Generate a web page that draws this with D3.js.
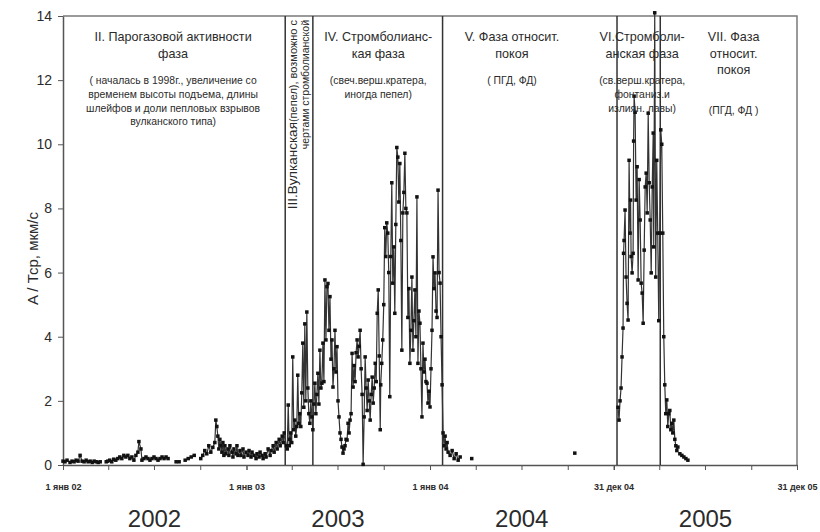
<!DOCTYPE html>
<html>
<head>
<meta charset="utf-8">
<script src="https://cdn.jsdelivr.net/npm/d3@7"></script>
<style>
  body { margin: 0; background: #fff; }
  svg { display: block; font-family: Arial, "Liberation Sans", sans-serif; }
</style>
</head>
<body>
<div id="chart"></div>
<script>
// Days since 1 Jan 2002 and amplitude A/Tср (null = no observation, line breaks)
const days = [
  0, 4, 8, 14, 18, 22, 26, 30, 34, 38, 42, 46, 50, 54, 58, 62, 66, 70, 74, null,
  86, 89, 93, 97, 101, 105, 109, 113, 117, 121, 125, 129, 133, 137, 141, 145, 149, 151, 155, 157,
  161, 165, 169, 173, 177, 181, 185, 189, 193, 197, 201, 205, 209, null,
  225, 231, null,
  243, 249, 255, 261, null,
  274, 278, 282, 286, 290, 294, 298, 302, 304, 306, 308, 310, 312, 314, 316, 318, 320, 322, 324,
  328, 330, 332, 336, 338, 340, 344, 346, 348, 352, 354, 358, 360, 364, 368, 370, 374, 376, 380,
  384, 386, 390, 392, 396, 398, 402, 404, 408, 412, 414, 418, 420, 424, 426, 430, 432, 436, 438, 440,
  444, 446, 448, 450,
  451, 453, 455, 457, 459, 461, 463, 465, 467, 469, 471, 473, 475, 477, 479, 481, 483, 485, 487, 489,
  491, 493, 495, 497, 499, 501, 503, 505, 507, 509, 511, 513, 515, 517, 519, 521, 523, 525, 527, 529,
  531, 533, 535, 537, 539, 541, 543, 545, 547, 549, 551, 553, 555, 557, 559, 561, 563, 565, 567, 569,
  571, 573, 575, 577, 579, 581, 583, 585, 587, 589, 591, 593, 595, 597, 599, 601, 603, 605, 607, 609,
  611, 613, 615, 617, 619, 621, 623, 625, 627, 629, 631,
  632, 634, 636, 638, 640, 642, 644, 646, 648, 650, 652, 654, 656, 658, 660, 662, 664, 666, 668, 670,
  672, 674, 676, 678, 680, 682, 684, 686, 688, 690, 692, 694, 696, 698, 700, 702, 704, 706, 708, 710,
  712, 714, 716, 718, 720, 722, 724, 726, 728, 730, 732, 734, 736, 738, 740, 742, 744, 746, 748, 750,
  752, 754, 756, 758, 760, 762, 764, 766, 770, 774, 778, 782, 786, 790, null,
  813, null,
  1018, null,
  1104, 1106, 1108, 1110, 1112, 1114, 1115, 1116, 1118, 1120, 1122, 1124, 1126, 1128, 1129, 1130,
  1132, 1134, 1135, 1136, 1138, 1140, 1142, 1144, 1146, 1148, 1150, 1152, 1154, 1156, 1158, 1160,
  1162, 1164, 1166, 1168, 1170, 1172, 1174, 1175, 1177, 1179, 1181, 1183, 1185, 1187, 1189, 1191,
  1193, 1195, 1197, 1199, 1201, 1203, 1205, 1207, 1209, 1211, 1213, 1215, 1217, 1219, 1221, 1223, null,
  1227, 1231, 1235, 1239, 1243
];
const amp = [
  0.12, 0.10, 0.15, 0.08, 0.12, 0.10, 0.15, 0.12, 0.30, 0.12, 0.10, 0.15, 0.10, 0.12, 0.08, 0.12, 0.10, 0.08, 0.10, null,
  0.10, 0.12, 0.15, 0.10, 0.18, 0.15, 0.20, 0.25, 0.20, 0.30, 0.25, 0.30, 0.20, 0.25, 0.15, 0.30, 0.40, 0.73, 0.50, 0.15,
  0.20, 0.25, 0.20, 0.15, 0.20, 0.25, 0.20, 0.15, 0.20, 0.25, 0.20, 0.25, 0.20, null,
  0.10, 0.10, null,
  0.15, 0.20, 0.25, 0.30, null,
  0.20, 0.30, 0.45, 0.35, 0.60, 0.40, 0.55, 0.70, 1.40, 1.20, 0.90, 0.50, 0.80, 0.60, 0.40, 0.70, 0.30, 0.60, 0.35,
  0.50, 0.30, 0.60, 0.40, 0.25, 0.50, 0.35, 0.60, 0.30, 0.45, 0.30, 0.50, 0.25, 0.40, 0.30, 0.45, 0.25, 0.40, 0.30,
  0.20, 0.35, 0.25, 0.40, 0.30, 0.20, 0.35, 0.25, 0.50, 0.30, 0.45, 0.60, 0.40, 0.70, 0.50, 0.80, 0.60, 0.90, 0.70, 1.00,
  0.60, 0.50, 1.87, 0.60,
  0.80, 1.00, 0.70, 3.37, 1.10, 1.40, 0.90, 1.20, 2.80, 1.30, 1.60, 1.20, 2.25, 3.80, 1.80, 4.40, 2.00, 4.77, 2.40, 1.60,
  1.30, 2.00, 1.50, 1.10, 1.90, 2.55, 1.60, 2.20, 2.86, 1.90, 3.58, 2.40, 2.55, 3.80, 2.60, 5.77, 3.90, 5.56, 5.66, 4.20,
  5.25, 3.30, 3.90, 2.43, 3.00, 4.20, 2.90, 3.69, 2.00, 1.50, 1.00, 0.80, 0.56, 0.37, 0.50, 0.60, 0.80, 0.78, 1.30, 1.00,
  1.40, 1.60, 3.48, 2.43, 3.10, 2.60, 3.50, 3.90, 3.37, 3.70, 4.20, 3.00, 2.20, 0.02, 1.50, 3.37, 2.40, 1.70, 2.65, 2.00,
  1.40, 2.20, 2.74, 1.93, 2.40, 3.17, 2.60, 4.73, 5.46, 3.40, 1.10,
  2.50, 3.17, 3.90, 5.00, 7.40, 6.50, 7.55, 7.23, 6.00, 2.13, 6.50, 8.80, 5.67, 6.80, 4.73, 7.50, 9.90, 9.60, 8.20, 9.40,
  7.00, 3.58, 7.86, 8.50, 9.72, 8.00, 7.86, 4.60, 5.50, 3.17, 4.20, 5.86, 3.58, 4.50, 5.46, 4.00, 8.36, 3.17, 4.80, 4.42,
  3.00, 1.50, 3.80, 2.90, 3.30, 2.60, 2.55, 1.93, 2.30, 1.81, 3.00, 4.20, 6.49, 5.50, 5.99, 4.80, 4.60, 8.57, 6.00, 5.67,
  4.00, 2.50, 1.00, 0.60, 0.90, 0.50, 0.70, 0.40, 0.30, 0.45, 0.20, 0.35, 0.15, 0.25, null,
  0.20, null,
  0.37, null,
  1.80, 1.40, 2.00, 2.40, 3.37, 4.27, 6.60, 7.00, 7.95, 5.86, 5.04, 4.52, 9.50, 7.23, 8.26, 6.50,
  5.99, 6.60, 10.10, 11.50, 11.00, 8.26, 9.30, 5.77, 8.90, 7.64, 5.67, 5.36, 4.42, 6.70, 8.67, 9.10,
  7.86, 10.97, 8.80, 7.64, 5.99, 8.67, 10.35, 6.80, 14.10, 5.86, 9.50, 7.23, 4.50, 7.23, 10.45, 10.00,
  7.23, 4.00, 2.50, 1.60, 2.03, 1.20, 1.60, 1.70, 1.10, 1.30, 1.00, 1.40, 0.80, 0.60, 0.45, 0.56, null,
  0.35, 0.30, 0.25, 0.20, 0.15
];

// Phase boundaries
const phaseDates = ["2003-03-19", "2003-05-13", "2004-01-26", "2005-01-07", "2005-04-03"];

// Axis ticks
const xTickDates = ["2002-01-01", "2003-01-01", "2004-01-01", "2004-12-31", "2005-12-31"];
const xTickLabels = ["1 янв 02", "1 янв 03", "1 янв 04", "31 дек 04", "31 дек 05"];
const yTicks = [0, 2, 4, 6, 8, 10, 12, 14];
const years = ["2002", "2003", "2004", "2005"];
const yTitle = "A / Тср, мкм/с";

// Phase captions: centre date, title lines, note lines
const phaseNotes = [
  {at: "2002-08-08", title: ["II. Парогазовой активности", "фаза"],
   note: ["( началась в 1998г., увеличение со", "временем высоты подъема, длины", "шлейфов и доли пепловых взрывов", "вулканского типа)"]},
  {at: "2003-09-20", title: ["IV. Стромболианс-", "кая фаза"],
   note: ["(свеч.верш.кратера,", "иногда пепел)"]},
  {at: "2004-06-12", title: ["V. Фаза относит.", "покоя"],
   note: ["( ПГД, ФД)"]},
  {at: "2005-02-26", title: ["VI.Стромболи-", "анская фаза"],
   note: ["(св.верш.кратера,", "фонтаниз.и", "излиян. лавы)"]},
  {at: "2005-08-27", title: ["VII. Фаза", "относит.", "покоя"],
   note: ["", "(ПГД, ФД )"]}
];

const drawChart = () => {

  /*******************************/
  /*    Declare the constants    */
  /*******************************/
  const width = 820;
  const height = 532;
  const margin = {top: 16, right: 23, bottom: 67, left: 63};
  const innerWidth = width - margin.left - margin.right;
  const innerHeight = height - margin.top - margin.bottom;
  const ink = "#2b2b2b";
  const parse = d3.timeParse("%Y-%m-%d");
  const start = parse("2002-01-01");

  const data = days.map((d, i) => ({
    date: d === null ? null : d3.timeDay.offset(start, d),
    value: amp[i]
  }));

  const svg = d3.select("#chart")
    .append("svg")
      .attr("width", width)
      .attr("height", height);

  const innerChart = svg
    .append("g")
      .attr("transform", `translate(${margin.left}, ${margin.top})`);

  /****************************/
  /*    Declare the scales    */
  /****************************/
  const xScale = d3.scaleTime()
    .domain([start, parse("2005-12-31")])
    .range([0, innerWidth]);

  const yScale = d3.scaleLinear()
    .domain([0, 14])
    .range([innerHeight, 0]);

  /****************************/
  /*      Frame and axes      */
  /****************************/
  // top and right frame
  innerChart
    .append("path")
      .attr("d", `M0,0H${innerWidth}V${innerHeight}`)
      .attr("fill", "none")
      .attr("stroke", "#7a7a7a")
      .attr("stroke-width", 1.5);

  // minor quarter ticks
  innerChart
    .append("g")
      .attr("transform", `translate(0, ${innerHeight})`)
      .call(d3.axisBottom(xScale)
        .tickValues(xScale.ticks(d3.timeMonth.every(3)))
        .tickFormat("")
        .tickSize(5)
        .tickSizeOuter(0))
      .call(g => g.selectAll("line").attr("stroke", "#555"))
      .call(g => g.select(".domain").remove());

  // bottom axis with labels
  const bottomAxis = d3.axisBottom(xScale)
    .tickValues(xTickDates.map(parse))
    .tickFormat((d, i) => xTickLabels[i])
    .tickSize(5)
    .tickSizeOuter(0);
  innerChart
    .append("g")
      .attr("class", "axis-x")
      .attr("transform", `translate(0, ${innerHeight})`)
      .call(bottomAxis)
      .call(g => g.select(".domain").attr("stroke", "#555").attr("stroke-width", 1.5))
      .call(g => g.selectAll("line").attr("stroke", "#555"))
      .call(g => g.selectAll("text")
        .attr("y", 19)
        .attr("fill", ink)
        .style("font-size", "9px")
        .style("font-weight", "bold")
        .style("font-family", "Arial, 'Liberation Sans', sans-serif"));

  // left axis
  const leftAxis = d3.axisLeft(yScale)
    .tickValues(yTicks)
    .tickSize(5)
    .tickSizeOuter(0);
  innerChart
    .append("g")
      .attr("class", "axis-y")
      .call(leftAxis)
      .call(g => g.select(".domain").attr("stroke", "#555").attr("stroke-width", 1.5))
      .call(g => g.selectAll("line").attr("stroke", "#555"))
      .call(g => g.selectAll("text")
        .attr("x", -11)
        .attr("fill", ink)
        .style("font-size", "14px")
        .style("font-family", "Arial, 'Liberation Sans', sans-serif"));

  // y axis title
  svg
    .append("text")
      .text(yTitle)
      .attr("transform", `translate(38, ${margin.top + innerHeight / 2 + 18}) rotate(-90)`)
      .attr("text-anchor", "middle")
      .attr("fill", ink)
      .style("font-size", "15px");

  // year captions under the axis
  svg
    .selectAll(".year")
    .data(years)
    .join("text")
      .attr("class", "year")
      .text(d => d)
      .attr("x", d => margin.left + (xScale(parse(`${d}-01-01`)) + xScale(parse(`${d}-12-31`))) / 2)
      .attr("y", 527)
      .attr("text-anchor", "middle")
      .attr("fill", ink)
      .style("font-size", "24px");

  /****************************/
  /*   Phase boundary lines   */
  /****************************/
  innerChart
    .selectAll(".phase")
    .data(phaseDates)
    .join("line")
      .attr("class", "phase")
      .attr("x1", d => xScale(parse(d)))
      .attr("x2", d => xScale(parse(d)))
      .attr("y1", 0)
      .attr("y2", innerHeight)
      .attr("stroke", "#333")
      .attr("stroke-width", 1.5);

  /****************************/
  /*       Data series        */
  /****************************/
  const lineGenerator = d3.line()
    .defined(d => d.value !== null)
    .x(d => xScale(d.date))
    .y(d => yScale(d.value));

  innerChart
    .append("path")
      .attr("d", lineGenerator(data))
      .attr("fill", "none")
      .attr("stroke", "#333")
      .attr("stroke-width", 1.2);

  innerChart
    .selectAll(".pt")
    .data(data.filter(d => d.value !== null))
    .join("rect")
      .attr("class", "pt")
      .attr("x", d => xScale(d.date) - 1.75)
      .attr("y", d => yScale(d.value) - 1.75)
      .attr("width", 3.5)
      .attr("height", 3.5)
      .attr("fill", "#111");

  /****************************/
  /*      Phase captions      */
  /****************************/
  phaseNotes.forEach(p => {
    const cx = xScale(parse(p.at));
    const g = innerChart.append("g").attr("fill", ink).attr("text-anchor", "middle");
    p.title.forEach((t, i) => {
      g.append("text")
        .text(t)
        .attr("x", cx)
        .attr("y", 25 + i * 16.5)
        .style("font-size", "12.6px");
    });
    const noteTop = 25 + p.title.length * 16.5 + 10;
    p.note.forEach((t, i) => {
      g.append("text")
        .text(t)
        .attr("x", cx)
        .attr("y", noteTop + i * 13.8)
        .style("font-size", "10.4px");
    });
  });

  // Phase III caption is written vertically between its boundaries
  const xIII = xScale(parse("2003-04-15"));
  const vert = innerChart.append("g")
    .attr("fill", ink)
    .attr("text-anchor", "end");
  const l1 = vert.append("text")
    .attr("transform", `translate(${xIII - 2}, 4) rotate(-90)`);
  l1.append("tspan").text("III.Вулканская").style("font-size", "13.5px");
  l1.append("tspan").text("(пепел), возможно с").style("font-size", "11px");
  vert.append("text")
    .text("чертами стромболианской")
    .attr("transform", `translate(${xIII + 10}, 4) rotate(-90)`)
    .style("font-size", "10.5px");
};

drawChart();
</script>
</body>
</html>
